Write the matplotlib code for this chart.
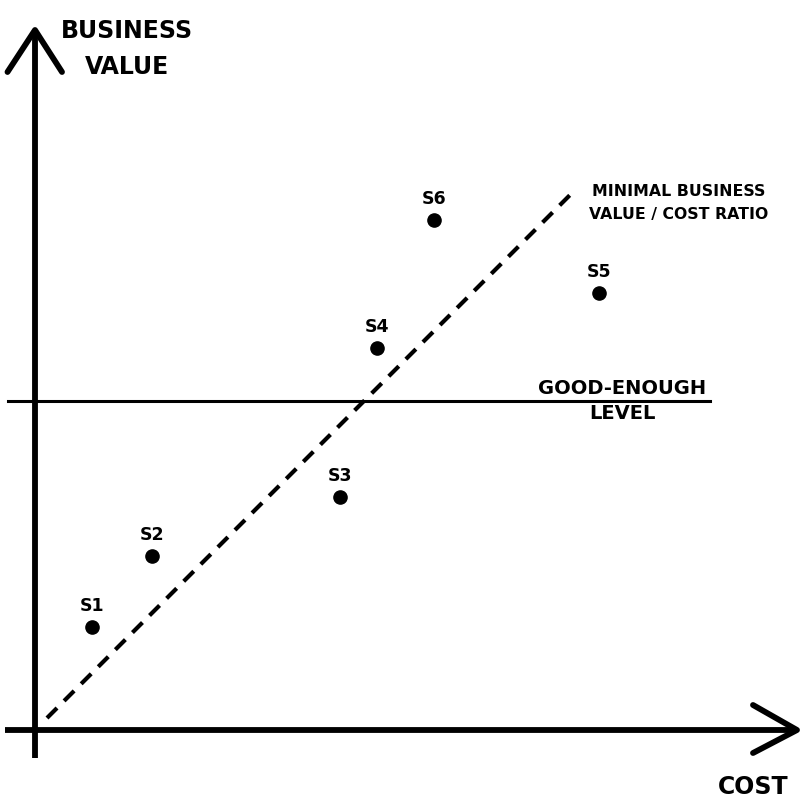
import matplotlib
matplotlib.use("Agg")
import matplotlib.pyplot as plt

# scenario positions (cost, business value), arbitrary units
labels = ["S1", "S2", "S3", "S4", "S5", "S6"]
cost = [5.7, 11.7, 30.5, 34.2, 56.4, 39.9]
value = [10.3, 17.4, 23.3, 38.2, 43.7, 51.0]

# minimal value / cost ratio line (value = cost)
ratio_x = [1.2, 54.0]
ratio_y = [1.2, 54.0]

# good-enough level
good_level = 32.9
good_x = [-2.7, 67.5]

plt.rcParams['font.family'] = ['DejaVu Sans']

fig = plt.figure(figsize=(8, 8), dpi=100)
ax = fig.add_axes([0, 0, 1, 1])
ax.set_xlim(-3.5, 76.5)
ax.set_ylim(-7, 73)
ax.axis('off')

# axes with open arrow heads
ax.plot([0, 0], [-2.8, 70], color='black', lw=4.2, solid_capstyle='butt')
ax.plot([-2.75, 0, 2.7], [65.8, 70, 65.8], color='black', lw=4.2,
        solid_capstyle='round', solid_joinstyle='round')
ax.plot([-3.0, 76.2], [0, 0], color='black', lw=4.2, solid_capstyle='butt')
ax.plot([71.8, 76.2, 71.8], [2.5, 0, -2.3], color='black', lw=4.2,
        solid_capstyle='round', solid_joinstyle='round')

# reference lines
ax.plot(ratio_x, ratio_y, color='black', lw=3, linestyle=(0, (3.4, 2.4)))
ax.plot(good_x, [good_level, good_level], color='black', lw=2.2)

# scenarios
ax.plot(cost, value, 'o', color='black', markersize=9.5)
for lab, cx, cy in zip(labels, cost, value):
    ax.annotate(lab, xy=(cx, cy), xytext=(0, 21), textcoords='offset pixels',
                ha='center', va='center', fontsize=12.5, fontweight='bold')

# axis titles and annotations
ax.text(9.2, 68.1, "BUSINESS\nVALUE", ha='center', va='center', fontsize=17,
        fontweight='bold', linespacing=1.6)
ax.text(71.8, -5.7, "COST", ha='center', va='center', fontsize=17, fontweight='bold')
ax.text(64.4, 52.7, "MINIMAL BUSINESS\nVALUE / COST RATIO", ha='center', va='center',
        fontsize=11.3, fontweight='bold', linespacing=1.75)
ax.text(58.7, 32.9, "GOOD-ENOUGH\nLEVEL", ha='center', va='center', fontsize=14,
        fontweight='bold', linespacing=1.35)

fig.savefig("out.png", dpi=100, facecolor='white')
